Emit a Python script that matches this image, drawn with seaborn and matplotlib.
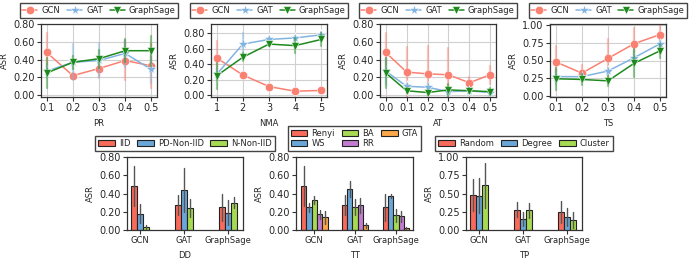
import numpy as np
import pandas as pd
import matplotlib
matplotlib.use('Agg')
import matplotlib.pyplot as plt
from matplotlib.ticker import FixedLocator, FormatStrFormatter
import seaborn as sns

models = ['GCN', 'GAT', 'GraphSage']
line_colors = {'GCN': '#fa8072', 'GAT': '#82b4e0', 'GraphSage': '#1e8a1e'}
line_markers = {'GCN': 'o', 'GAT': '*', 'GraphSage': 'v'}

# line panels: x values, means and error half-widths per model
pr_x = [0.1, 0.2, 0.3, 0.4, 0.5]
pr_mean = {'GCN': [0.48, 0.22, 0.30, 0.39, 0.33],
           'GAT': [0.27, 0.37, 0.39, 0.47, 0.29],
           'GraphSage': [0.25, 0.37, 0.41, 0.50, 0.50]}
pr_err = {'GCN': [0.22, 0.03, 0.10, 0.22, 0.25],
          'GAT': [0.08, 0.20, 0.20, 0.15, 0.15],
          'GraphSage': [0.17, 0.07, 0.10, 0.13, 0.17]}

nma_x = [1, 2, 3, 4, 5]
nma_mean = {'GCN': [0.48, 0.26, 0.11, 0.05, 0.06],
            'GAT': [0.27, 0.66, 0.72, 0.74, 0.78],
            'GraphSage': [0.25, 0.49, 0.66, 0.64, 0.72]}
nma_err = {'GCN': [0.22, 0.02, 0.02, 0.02, 0.02],
           'GAT': [0.08, 0.14, 0.03, 0.03, 0.03],
           'GraphSage': [0.17, 0.05, 0.03, 0.10, 0.08]}

at_x = [0.0, 0.1, 0.2, 0.3, 0.4, 0.5]
at_mean = {'GCN': [0.48, 0.26, 0.24, 0.23, 0.14, 0.23],
           'GAT': [0.27, 0.10, 0.09, 0.04, 0.05, 0.03],
           'GraphSage': [0.25, 0.05, 0.03, 0.06, 0.05, 0.04]}
at_err = {'GCN': [0.22, 0.28, 0.31, 0.30, 0.06, 0.10],
          'GAT': [0.15, 0.03, 0.05, 0.02, 0.02, 0.02],
          'GraphSage': [0.17, 0.03, 0.03, 0.07, 0.03, 0.04]}

ts_x = [0.1, 0.2, 0.3, 0.4, 0.5]
ts_mean = {'GCN': [0.48, 0.32, 0.53, 0.74, 0.87],
           'GAT': [0.27, 0.27, 0.35, 0.54, 0.74],
           'GraphSage': [0.24, 0.23, 0.21, 0.46, 0.64]}
ts_err = {'GCN': [0.22, 0.12, 0.27, 0.22, 0.15],
          'GAT': [0.10, 0.05, 0.05, 0.10, 0.05],
          'GraphSage': [0.16, 0.08, 0.07, 0.20, 0.10]}

# bar panels
dd_cats = ['IID', 'PD-Non-IID', 'N-Non-IID']
dd_mean = [[0.48, 0.18, 0.03], [0.27, 0.44, 0.24], [0.25, 0.19, 0.30]]
dd_err = [[0.22, 0.10, 0.03], [0.11, 0.24, 0.10], [0.15, 0.14, 0.06]]

tt_cats = ['Renyi', 'WS', 'BA', 'RR', 'GTA']
tt_mean = [[0.48, 0.25, 0.33, 0.17, 0.14], [0.27, 0.45, 0.25, 0.27, 0.05],
           [0.25, 0.37, 0.16, 0.15, 0.02]]
tt_err = [[0.22, 0.05, 0.04, 0.05, 0.07], [0.11, 0.09, 0.09, 0.08, 0.03],
          [0.15, 0.02, 0.07, 0.06, 0.01]]

tp_cats = ['Random', 'Degree', 'Cluster']
tp_mean = [[0.48, 0.47, 0.61], [0.28, 0.15, 0.27], [0.25, 0.18, 0.14]]
tp_err = [[0.22, 0.24, 0.31], [0.10, 0.10, 0.10], [0.15, 0.12, 0.11]]

bar_colors = ['#f86a5c', '#6aa6d8', '#a6da52', '#c27ccf', '#fba84a']


def line_frame(xs, mean, err):
    rows = []
    for m in models:
        for x, v, e in zip(xs, mean[m], err[m]):
            for val in (v - e, v, v + e):
                rows.append({'x': x, 'ASR': val, 'model': m})
    return pd.DataFrame(rows)


def bar_frame(cats, mean, err):
    rows = []
    for i, m in enumerate(models):
        for j, c in enumerate(cats):
            v, e = mean[i][j], err[i][j]
            for val in (v - e, v, v + e):
                rows.append({'model': m, 'cond': c, 'ASR': val})
    return pd.DataFrame(rows)


sns.set_style('ticks')
plt.rcParams['font.family'] = ['DejaVu Sans']

fig = plt.figure(figsize=(6.92, 2.6), dpi=100)
W, H = 692, 260


def add_ax(left, top, w=116, h=73):
    return fig.add_axes([left / W, 1 - (top + h) / H, w / W, h / H])


def style_axis(ax, label, ylim, yticks):
    ax.set_ylim(*ylim)
    ax.yaxis.set_major_locator(FixedLocator(yticks))
    ax.yaxis.set_major_formatter(FormatStrFormatter('%.2f'))
    ax.set_xlabel(label, fontsize=6, labelpad=4)
    ax.set_ylabel('ASR', fontsize=6, labelpad=3)
    ax.tick_params(axis='y', labelsize=7, length=3, pad=1.5, color='#333333')
    for s in ax.spines.values():
        s.set_color('#333333')
        s.set_linewidth(0.9)


def draw_line(ax, xs, mean, err, label, ylim, yticks):
    df = line_frame(xs, mean, err)
    sns.lineplot(data=df, x='x', y='ASR', hue='model', style='model',
                 palette=line_colors, markers=line_markers, dashes=False,
                 errorbar=('pi', 100), err_style='bars',
                 err_kws={'linewidth': 1.6},
                 markersize=6, markeredgewidth=0.4, linewidth=1.1, ax=ax)
    # soften the error bars
    for c in ax.collections:
        c.set_alpha(0.45)
    # the star marker looks small next to the others
    for ln in ax.lines:
        if ln.get_marker() == '*':
            ln.set_markersize(8)
    ax.grid(True, color='#d0d0d0', linewidth=0.8)
    ax.set_axisbelow(True)
    ax.set_xticks(xs)
    if isinstance(xs[0], int):
        ax.set_xticklabels([str(x) for x in xs])
    else:
        ax.set_xticklabels(['%.1f' % x for x in xs])
    ax.margins(x=0.055)
    style_axis(ax, label, ylim, yticks)
    ax.tick_params(axis='x', labelsize=7, length=3, pad=1.5, color='#333333')
    leg = ax.legend(loc='lower center', bbox_to_anchor=(0.5, 1.08), ncol=3,
                    fontsize=6, fancybox=False, edgecolor='#444444',
                    handlelength=1.8, columnspacing=0.8, borderpad=0.35,
                    handletextpad=0.5, borderaxespad=0, framealpha=1)
    for h in leg.legend_handles:
        if h.get_marker() == '*':
            h.set_markersize(8)


def draw_bar(ax, cats, mean, err, label, ylim, yticks, width, xlim, ncol):
    df = bar_frame(cats, mean, err)
    sns.barplot(data=df, x='model', y='ASR', hue='cond', palette=bar_colors[:len(cats)],
                saturation=1, errorbar=('pi', 100), width=width,
                edgecolor='#222222', linewidth=0.8,
                err_kws={'color': '#555555', 'linewidth': 1.0}, ax=ax)
    ax.set_xlim(*xlim)
    style_axis(ax, label, ylim, yticks)
    ax.tick_params(axis='x', labelsize=6, length=3, pad=1.5, color='#333333')
    ax.legend(loc='lower center', bbox_to_anchor=(0.5, 1.08), ncol=ncol,
              fontsize=6, fancybox=False, edgecolor='#444444',
              handlelength=2.0, columnspacing=0.8, borderpad=0.35,
              handletextpad=0.5, labelspacing=0.15, borderaxespad=0, framealpha=1)


ax1 = add_ax(41, 24)
ax2 = add_ax(211, 24)
ax3 = add_ax(380, 24)
ax4 = add_ax(550, 24)
draw_line(ax1, pr_x, pr_mean, pr_err, 'PR', (-0.02, 0.80), [0, 0.2, 0.4, 0.6, 0.8])
draw_line(ax2, nma_x, nma_mean, nma_err, 'NMA', (-0.025, 0.92), [0, 0.2, 0.4, 0.6, 0.8])
draw_line(ax3, at_x, at_mean, at_err, 'AT', (-0.02, 0.80), [0, 0.2, 0.4, 0.6, 0.8])
draw_line(ax4, ts_x, ts_mean, ts_err, 'TS', (-0.02, 1.02), [0, 0.25, 0.5, 0.75, 1.0])

ax5 = add_ax(127, 157)
ax6 = add_ax(296, 157, w=117)
ax7 = add_ax(466, 157)
draw_bar(ax5, dd_cats, dd_mean, dd_err, 'DD', (0, 0.80), [0, 0.2, 0.4, 0.6, 0.8],
         0.41, (-0.3, 2.35), 3)
draw_bar(ax6, tt_cats, tt_mean, tt_err, 'TT', (0, 0.80), [0, 0.2, 0.4, 0.6, 0.8],
         0.65, (-0.45, 2.42), 3)
draw_bar(ax7, tp_cats, tp_mean, tp_err, 'TP', (0, 1.00), [0, 0.25, 0.5, 0.75, 1.0],
         0.41, (-0.3, 2.35), 3)

fig.savefig('out.png', dpi=100)
